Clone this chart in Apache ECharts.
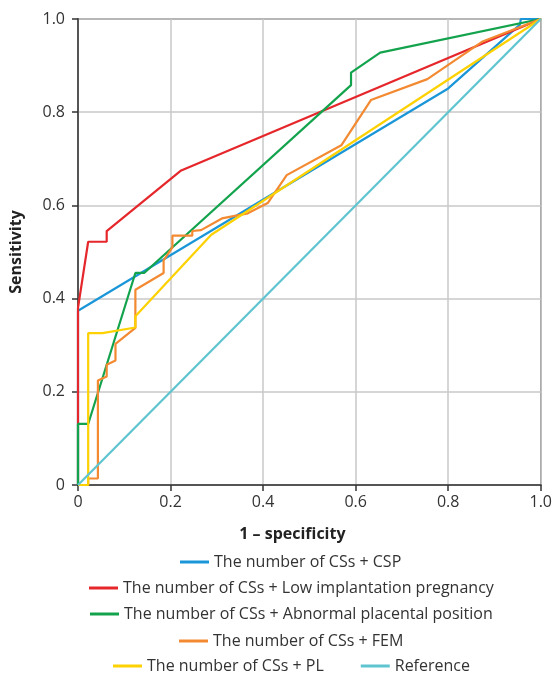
<!DOCTYPE html>
<html>
<head>
<meta charset="utf-8">
<script src="https://cdn.jsdelivr.net/npm/echarts@6/dist/echarts.min.js"></script>
<style>
html,body{margin:0;padding:0;background:#fff;}
#c{width:555px;height:675px;}
</style>
</head>
<body>
<div id="c"></div>
<script>
var seriesNames = [
  'The number of CSs + CSP',
  'The number of CSs + Low implantation pregnancy',
  'The number of CSs + Abnormal placental position',
  'The number of CSs + FEM',
  'The number of CSs + PL',
  'Reference'
];
var colors = ['#1a96d8', '#e5262b', '#14a34d', '#f38a32', '#fdd102', '#5ec4d0'];
var tickLabels = ['0', '0.2', '0.4', '0.6', '0.8', '1.0'];

var cspData = [[0,0],[0,0.374],[0.8,0.851],[0.955,0.988],[0.957,1],[1,1]];
var lowImplData = [[0,0],[0,0.38],[0.022,0.522],[0.062,0.522],[0.062,0.545],[0.223,0.675],[1,1]];
var abnPlacData = [[0,0],[0,0.131],[0.022,0.131],[0.124,0.455],[0.143,0.455],[0.59,0.858],[0.59,0.885],[0.653,0.928],[1,1]];
var femData = [[0,0],[0.022,0],[0.022,0.014],[0.043,0.014],[0.043,0.224],[0.062,0.233],[0.062,0.258],[0.081,0.267],[0.081,0.303],[0.124,0.337],[0.124,0.419],[0.185,0.455],[0.185,0.482],[0.204,0.51],[0.204,0.535],[0.247,0.535],[0.247,0.545],[0.266,0.547],[0.311,0.572],[0.367,0.583],[0.41,0.605],[0.451,0.665],[0.569,0.729],[0.633,0.826],[0.755,0.871],[0.873,0.951],[1,1]];
var plData = [[0,0],[0.022,0],[0.022,0.326],[0.053,0.326],[0.124,0.338],[0.124,0.362],[0.288,0.537],[1,1]];
var refData = [[0,0],[1,1]];

var allData = [cspData, lowImplData, abnPlacData, femData, plData, refData];

var FONT = '"Open Sans", "Noto Sans", sans-serif';
var FONT_SIZE = 16;
function fmt(v){ var i = Math.round(v/0.2); return tickLabels[i]; }

var mctx = document.createElement('canvas').getContext('2d');
mctx.font = FONT_SIZE + 'px ' + FONT;
function tw(s){ return mctx.measureText(s).width; }

var ICON_W = 29, TEXT_PAD = 5, GAP = 37, LEGEND_CENTER = 291;
var legendRows = [[0],[1],[2],[3],[4,5]];
var legendTops = [554, 580, 606, 633, 658];
var legends = legendRows.map(function(row, i){
  var w = 0;
  row.forEach(function(k, j){ w += ICON_W + TEXT_PAD + tw(seriesNames[k]) + (j > 0 ? GAP : 0); });
  return {
    data: row.map(function(k){ return seriesNames[k]; }),
    top: legendTops[i],
    left: Math.round(LEGEND_CENTER - w / 2),
    padding: 0,
    itemWidth: ICON_W,
    itemHeight: 3,
    itemGap: GAP,
    icon: 'rect',
    textStyle: {fontFamily: FONT, fontSize: FONT_SIZE, color: '#333'},
    selectedMode: false
  };
});

var chart = echarts.init(document.getElementById('c'), null, {renderer:'canvas'});

var option = {
  animation: false,
  backgroundColor: '#fff',
  grid: {left: 76, right: 14, top: 19, bottom: 190, show: true, borderColor: '#555', borderWidth: 1.5, containLabel: false},
  legend: legends,
  xAxis: {
    type: 'value', min: 0, max: 1, interval: 0.2,
    name: '1 – specificity', nameLocation: 'middle', nameGap: 41,
    nameTextStyle: {fontFamily: FONT, fontSize: 16, fontWeight: 'bold', color: '#222', padding: [0, 34, 0, 0]},
    axisLine: {show: true, lineStyle: {color: '#555', width: 2}},
    axisTick: {show: true, length: 6, lineStyle: {color: '#333', width: 1.5}},
    axisLabel: {formatter: fmt, fontFamily: FONT, fontSize: 16, color: '#333', margin: 9},
    splitLine: {show: true, lineStyle: {color: '#c8c8c8', width: 1.5}}
  },
  yAxis: {
    type: 'value', min: 0, max: 1, interval: 0.2,
    name: 'Sensitivity', nameLocation: 'middle', nameGap: 54,
    nameTextStyle: {fontFamily: FONT, fontSize: 16, fontWeight: 'bold', color: '#222'},
    axisLine: {show: true, lineStyle: {color: '#555', width: 2}},
    axisTick: {show: true, length: 6, lineStyle: {color: '#333', width: 1.5}},
    axisLabel: {formatter: fmt, fontFamily: FONT, fontSize: 16, color: '#333', margin: 13},
    splitLine: {show: true, lineStyle: {color: '#c8c8c8', width: 1.5}}
  },
  series: seriesNames.map(function(n, i){
    return {
      name: n, type: 'line', data: allData[i], showSymbol: false, symbol: 'none',
      lineStyle: {color: colors[i], width: 2.2}, itemStyle: {color: colors[i]},
      z: 2 + i
    };
  })
};
chart.setOption(option);
</script>
</body>
</html>
